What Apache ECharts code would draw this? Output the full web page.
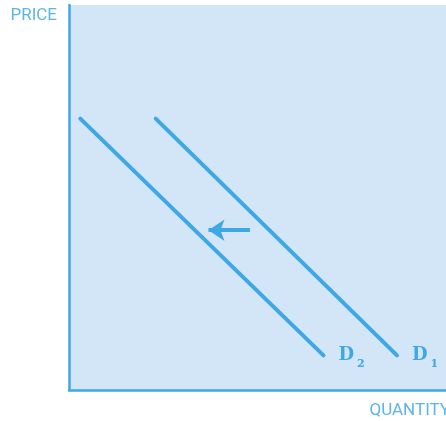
<!DOCTYPE html>
<html>
<head>
<meta charset="utf-8">
<script src="https://cdn.jsdelivr.net/npm/echarts@6/dist/echarts.min.js"></script>
<style>
  html, body { margin: 0; padding: 0; background: #fff; }
  #main { width: 446px; height: 421px; }
</style>
</head>
<body>
<div id="main"></div>
<script>
// demand curves (quantity, price)
var demand1 = [[23, 70.5], [87, 9]];
var demand2 = [[3, 70.5], [67.5, 9]];
// shift arrow, from D1 side towards D2
var shiftArrow = [[48, 41.5], [37, 41.5]];
var curveNames = ['1', '2'];
var axisNames = ['QUANTITY', 'PRICE'];

var blue = '#3ea7e6';
var textBlue = '#5cb5ea';

var myChart = echarts.init(document.getElementById('main'));

function endLabel(sub) {
    return {
        show: true,
        distance: 15,
        formatter: '{d|D}{s|' + sub + '}',
        rich: {
            d: { fontFamily: 'DejaVu Serif', fontWeight: 'bold', fontSize: 18, color: blue },
            s: { fontFamily: 'DejaVu Serif', fontWeight: 'bold', fontSize: 11, color: blue, padding: [18, 0, 0, 3] }
        }
    };
}

var option = {
    animation: false,
    grid: {
        left: 69,
        right: 0,
        top: 5,
        bottom: 31,
        outerBoundsMode: 'none',
        containLabel: false,
        show: true,
        backgroundColor: '#d3e6f8',
        borderWidth: 0
    },
    xAxis: {
        type: 'value',
        min: 0,
        max: 100,
        name: axisNames[0],
        nameLocation: 'end',
        nameGap: 4,
        nameTextStyle: {
            color: textBlue,
            fontFamily: 'Roboto',
            fontSize: 17,
            align: 'right',
            verticalAlign: 'top',
            padding: [12, 0, 0, 0]
        },
        axisLine: { show: true, lineStyle: { color: blue, width: 2.5 } },
        axisTick: { show: false },
        axisLabel: { show: false },
        splitLine: { show: false }
    },
    yAxis: {
        type: 'value',
        min: 0,
        max: 100,
        name: axisNames[1],
        nameLocation: 'end',
        nameGap: -11,
        nameTextStyle: {
            color: textBlue,
            fontFamily: 'Roboto',
            fontSize: 17,
            align: 'right',
            verticalAlign: 'middle',
            padding: [0, 12, 0, 0]
        },
        axisLine: { show: true, lineStyle: { color: blue, width: 2.5 } },
        axisTick: { show: false },
        axisLabel: { show: false },
        splitLine: { show: false }
    },
    series: [{
        name: 'D1',
        type: 'line',
        data: demand1,
        symbol: 'none',
        lineStyle: { color: blue, width: 4, cap: 'round' },
        endLabel: endLabel(curveNames[0])
    }, {
        name: 'D2',
        type: 'line',
        data: demand2,
        symbol: 'none',
        lineStyle: { color: blue, width: 4, cap: 'round' },
        endLabel: endLabel(curveNames[1])
    }, {
        type: 'lines',
        coordinateSystem: 'cartesian2d',
        symbol: ['none', 'arrow'],
        symbolSize: 16,
        lineStyle: { color: blue, width: 4, opacity: 1 },
        data: [{ coords: shiftArrow }]
    }]
};
myChart.setOption(option);
</script>
</body>
</html>
